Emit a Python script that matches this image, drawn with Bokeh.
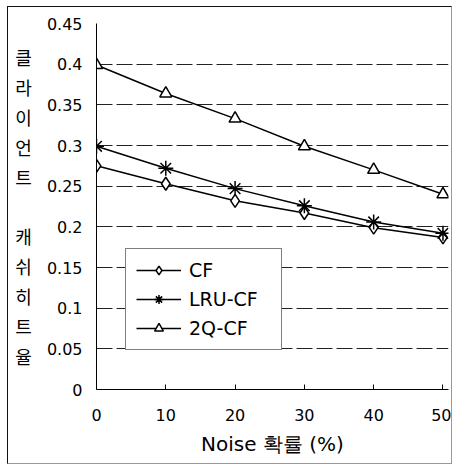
from bokeh.plotting import figure
from bokeh.models import Range1d, FixedTicker, Legend, LegendItem
from bokeh.embed import file_html
from bokeh.resources import INLINE

# ---- data ----
noise = [0, 10, 20, 30, 40, 50]
cf = [0.275, 0.253, 0.232, 0.217, 0.199, 0.187]
lru_cf = [0.299, 0.272, 0.247, 0.226, 0.206, 0.192]
q2_cf = [0.399, 0.364, 0.333, 0.299, 0.270, 0.240]
series_names = ["CF", "LRU-CF", "2Q-CF"]
y_ticks = [0, 0.05, 0.1, 0.15, 0.2, 0.25, 0.3, 0.35, 0.4, 0.45]
y_tick_labels = ["0", "0.05", "0.1", "0.15", "0.2", "0.25", "0.3", "0.35", "0.4", "0.45"]
x_ticks = [0, 10, 20, 30, 40, 50]
x_title = "Noise 확률 (%)"
y_title = "클\n라\n이\n언\n트\n\n캐\n쉬\n히\n트\n율"

LATIN = "DejaVu Sans"

p = figure(width=445, height=458,
           x_range=Range1d(0, 50.8), y_range=Range1d(0, 0.45),
           output_backend="svg", toolbar_location=None,
           min_border_left=88, min_border_right=5,
           min_border_top=16, min_border_bottom=76)
p.margin = (6, 0, 0, 7)
p.styles = {"border-left": "1px solid #111", "border-top": "1px solid #111",
            "border-right": "1px solid #999", "border-bottom": "1px solid #999"}
p.outline_line_color = None
p.background_fill_color = "white"
p.border_fill_color = "white"

# grid
p.xgrid.grid_line_color = None
p.ygrid.ticker = FixedTicker(ticks=y_ticks)
p.ygrid.grid_line_color = "#222222"
p.ygrid.grid_line_dash = "16 4"
p.ygrid.grid_line_width = 1

# axes
p.xaxis.ticker = FixedTicker(ticks=x_ticks)
p.xaxis.major_tick_in = 5
p.xaxis.major_tick_out = 0
p.xaxis.minor_tick_line_color = None
p.xaxis.major_label_standoff = 19
p.xaxis.major_label_text_font = LATIN
p.xaxis.major_label_text_font_size = "16px"
p.xaxis.major_label_text_color = "black"
p.xaxis.axis_label = x_title
p.xaxis.axis_label_text_font = LATIN
p.xaxis.axis_label_text_font_size = "20px"
p.xaxis.axis_label_text_font_style = "normal"
p.xaxis.axis_label_text_color = "black"
p.xaxis.axis_label_standoff = 8

p.yaxis.ticker = FixedTicker(ticks=y_ticks)
p.yaxis.major_label_overrides = {t: l for t, l in zip(y_ticks, y_tick_labels)}
p.yaxis.major_tick_in = 0
p.yaxis.major_tick_out = 0
p.yaxis.minor_tick_line_color = None
p.yaxis.major_label_standoff = 14
p.yaxis.major_label_text_font = LATIN
p.yaxis.major_label_text_font_size = "16px"
p.yaxis.major_label_text_color = "black"
p.yaxis.axis_label = y_title
p.yaxis.axis_label_orientation = "horizontal"
p.yaxis.axis_label_text_font = "Noto Sans CJK KR"
p.yaxis.axis_label_text_font_size = "18px"
p.yaxis.axis_label_text_font_style = "normal"
p.yaxis.axis_label_text_line_height = 1.15
p.yaxis.axis_label_text_color = "black"
p.yaxis.axis_label_standoff = 12
for ax in (p.xaxis, p.yaxis):
    ax.axis_line_color = "black"
    ax.axis_line_width = 1
    ax.major_tick_line_color = "black"

# series
items = []
for name, ys, marker, size in [("CF", cf, "diamond", 13),
                               ("LRU-CF", lru_cf, "asterisk", 15),
                               ("2Q-CF", q2_cf, "triangle", 12)]:
    ln = p.line(noise, ys, line_color="black", line_width=1.5)
    sc = p.scatter(noise, ys, marker=marker, size=size, fill_color="white",
                   line_color="black", line_width=1.5)
    items.append(LegendItem(label=name, renderers=[ln, sc]))

legend = Legend(items=items, location=(29, 39),
                border_line_color="black", border_line_width=1,
                background_fill_color="white", background_fill_alpha=1,
                padding=10, spacing=7, margin=0,
                glyph_width=45, glyph_height=22, label_height=22,
                label_standoff=8, label_width=82,
                label_text_font=LATIN, label_text_font_size="19px",
                label_text_color="black")
p.add_layout(legend)

open("out.html", "w").write(file_html(p, INLINE))
